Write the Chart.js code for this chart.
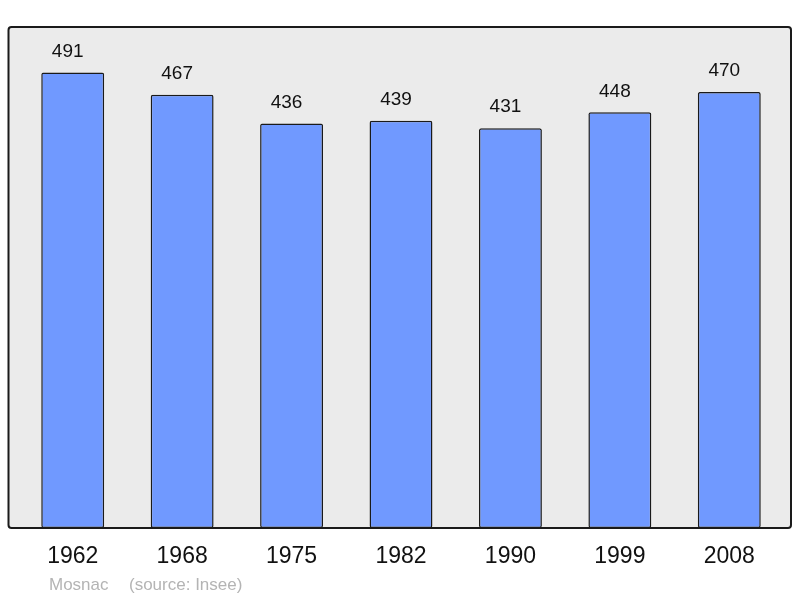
<!DOCTYPE html>
<html>
<head>
<meta charset="utf-8">
<script src="https://cdn.jsdelivr.net/npm/chart.js@4"></script>
<style>
  html, body { margin: 0; padding: 0; background: #fff; }
  #wrap { width: 800px; height: 598px; }
</style>
</head>
<body>
<div id="wrap"><canvas id="chart" width="800" height="598"></canvas></div>
<script>
// population figures
const years = ["1962", "1968", "1975", "1982", "1990", "1999", "2008"]
const population = [491, 467, 436, 439, 431, 448, 470]
const placeName = "Mosnac"
const sourceNote = "(source: Insee)"

const FONT = "'Liberation Sans', Arial, sans-serif"

// grey panel behind the bars
const framePlugin = {
    id: "frame",
    beforeDraw(chart) {
        const { ctx, chartArea } = chart
        const x0 = chartArea.left - 9.5, x1 = chartArea.right + 7
        const y0 = chartArea.top, y1 = chartArea.bottom
        ctx.save()
        ctx.beginPath()
        ctx.roundRect(x0, y0, x1 - x0, y1 - y0, 3)
        ctx.fillStyle = "#ebebeb"
        ctx.fill()
        ctx.lineWidth = 2
        ctx.strokeStyle = "#1a1a1a"
        ctx.stroke()
        ctx.restore()
    }
}

// value labels, years and footer
const labelsPlugin = {
    id: "labels",
    afterDatasetsDraw(chart) {
        const { ctx, chartArea } = chart
        const xScale = chart.scales.x
        const meta = chart.getDatasetMeta(0)
        ctx.save()
        ctx.textAlign = "center"
        ctx.textBaseline = "middle"
        ctx.fillStyle = "#111"
        ctx.font = "19px " + FONT
        // the numbers sit a little left of the bar centres
        meta.data.forEach((bar, i) => {
            ctx.fillText(String(population[i]), bar.x - 5, bar.y - 21)
        })
        ctx.font = "23px " + FONT
        years.forEach((y, i) => {
            ctx.fillText(y, xScale.getPixelForValue(i), chartArea.bottom + 29)
        })
        ctx.textAlign = "left"
        ctx.font = "17px " + FONT
        ctx.fillStyle = "#b4b4b4"
        ctx.fillText(placeName, 49, chartArea.bottom + 57)
        ctx.fillText(sourceNote, 129, chartArea.bottom + 57)
        ctx.restore()
    }
}

new Chart(document.getElementById("chart"), {
    type: "bar",
    data: {
        labels: years,
        datasets: [
            {
                data: population,
                backgroundColor: "#7099ff",
                borderColor: "#1a1a1a",
                borderWidth: 1.5,
                borderRadius: 2,
                borderSkipped: false,
                categoryPercentage: 1,
                barPercentage: 0.575
            }
        ]
    },
    options: {
        responsive: false,
        animation: false,
        devicePixelRatio: 1,
        layout: { padding: { left: 18, right: 16, top: 27, bottom: 70 } },
        plugins: { legend: { display: false }, tooltip: { enabled: false } },
        scales: {
            x: { display: false },
            y: { display: false, min: 0, max: 540 }
        }
    },
    plugins: [framePlugin, labelsPlugin]
})
</script>
</body>
</html>
